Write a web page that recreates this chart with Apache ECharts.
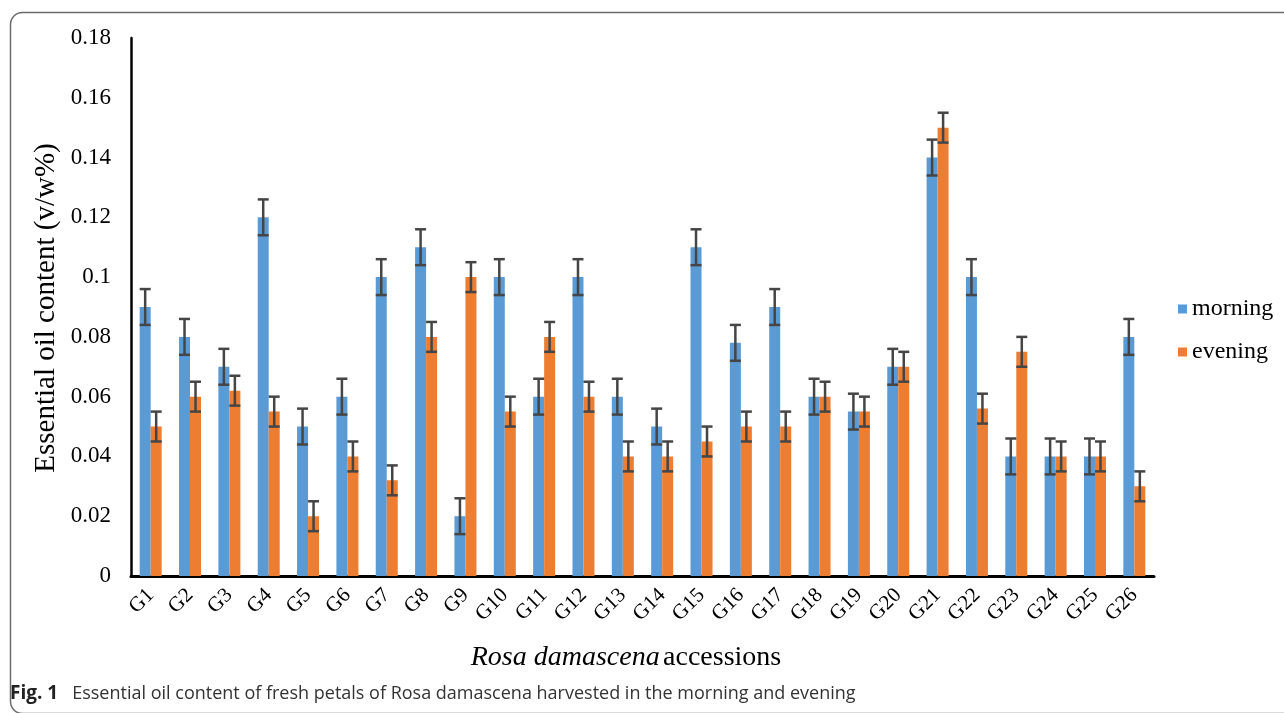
<!DOCTYPE html>
<html>
<head>
<meta charset="utf-8">
<script src="https://cdn.jsdelivr.net/npm/echarts@6/dist/echarts.min.js"></script>
<style>
html,body{margin:0;padding:0;background:#fff;}
#chart{width:1284px;height:713px;}
</style>
</head>
<body>
<div id="chart"></div>
<script>
const categories = ['G1','G2','G3','G4','G5','G6','G7','G8','G9','G10','G11','G12','G13','G14','G15','G16','G17','G18','G19','G20','G21','G22','G23','G24','G25','G26'];
const morning = [0.09,0.08,0.07,0.12,0.05,0.06,0.10,0.11,0.02,0.10,0.06,0.10,0.06,0.05,0.11,0.078,0.09,0.06,0.055,0.07,0.14,0.10,0.04,0.04,0.04,0.08];
const evening = [0.05,0.06,0.062,0.055,0.02,0.04,0.032,0.08,0.10,0.055,0.08,0.06,0.04,0.04,0.045,0.05,0.05,0.06,0.055,0.07,0.15,0.056,0.075,0.04,0.04,0.03];
const morningErr = [0.006,0.006,0.006,0.006,0.006,0.006,0.006,0.006,0.006,0.006,0.006,0.006,0.006,0.006,0.006,0.006,0.006,0.006,0.006,0.006,0.006,0.006,0.006,0.006,0.006,0.006];
const eveningErr = [0.005,0.005,0.005,0.005,0.005,0.005,0.005,0.005,0.005,0.005,0.005,0.005,0.005,0.005,0.005,0.005,0.005,0.005,0.005,0.005,0.005,0.005,0.005,0.005,0.005,0.005];
const yTicks = ['0','0.02','0.04','0.06','0.08','0.1','0.12','0.14','0.16','0.18'];
const seriesNames = ['morning', 'evening'];
const seriesColors = ['#5B9BD5', '#ED7D31'];

const BAR_W = 11;
const serif = 'Liberation Serif';

function errSeries(name, vals, errs, offset) {
  return {
    name: name + '-err',
    type: 'custom',
    z: 5,
    silent: true,
    data: vals.map((v, i) => [i, v - errs[i], v + errs[i]]),
    renderItem: function (params, api) {
      const i = api.value(0);
      const lo = api.coord([i, api.value(1)]);
      const hi = api.coord([i, api.value(2)]);
      const x = lo[0] + offset;
      const hw = BAR_W / 2;
      const style = {stroke: '#454545', lineWidth: 2.5};
      return {
        type: 'group',
        children: [
          {type: 'line', shape: {x1: x, y1: lo[1], x2: x, y2: hi[1]}, style: style},
          {type: 'line', shape: {x1: x - hw, y1: lo[1], x2: x + hw, y2: lo[1]}, style: style},
          {type: 'line', shape: {x1: x - hw, y1: hi[1], x2: x + hw, y2: hi[1]}, style: style}
        ]
      };
    }
  };
}

const chart = echarts.init(document.getElementById('chart'));
chart.setOption({
  animation: false,
  backgroundColor: '#fff',
  textStyle: {fontFamily: serif},
  grid: {left: 131, right: 130, top: 38, bottom: 137, containLabel: false},
  legend: {
    data: seriesNames,
    orient: 'vertical',
    left: 1173,
    top: 292,
    icon: 'rect',
    itemWidth: 9,
    itemHeight: 9,
    itemGap: 19,
    textStyle: {fontFamily: serif, fontSize: 24, color: '#000'}
  },
  xAxis: {
    type: 'category',
    data: categories,
    axisLine: {lineStyle: {color: '#000', width: 3}},
    axisTick: {show: false},
    axisLabel: {rotate: 45, fontFamily: serif, fontSize: 21, color: '#000', margin: 16, interval: 0}
  },
  yAxis: {
    type: 'value',
    min: 0,
    max: 0.18,
    interval: 0.02,
    splitLine: {show: false},
    axisLine: {show: true, lineStyle: {color: '#000', width: 2.5}},
    axisTick: {show: false},
    axisLabel: {
      fontFamily: serif, fontSize: 23, color: '#000', margin: 20,
      formatter: function (v) { return yTicks[Math.round(v / 0.02)]; }
    }
  },
  series: [
    {name: seriesNames[0], type: 'bar', data: morning, barWidth: BAR_W, barGap: '0%', itemStyle: {color: seriesColors[0]}},
    {name: seriesNames[1], type: 'bar', data: evening, barWidth: BAR_W, barGap: '0%', itemStyle: {color: seriesColors[1]}},
    errSeries('morning', morning, morningErr, -BAR_W / 2),
    errSeries('evening', evening, eveningErr, BAR_W / 2)
  ],
  graphic: [
    {
      type: 'rect', left: 8, top: 10, silent: true,
      shape: {width: 1320, height: 701, r: [12, 0, 0, 12]},
      style: {fill: 'none', stroke: '#6b6b6b', lineWidth: 1.5}
    },
    {
      type: 'text', x: 46, y: 308, rotation: Math.PI / 2, silent: true,
      style: {
        text: 'Essential oil content (v/w%)',
        align: 'center', verticalAlign: 'middle',
        fontFamily: serif, fontSize: 29, fill: '#000'
      }
    },
    {
      type: 'text', x: 626, y: 658, silent: true,
      style: {
        text: '{i|Rosa damascena} {n|accessions}',
        align: 'center', verticalAlign: 'middle',
        rich: {
          i: {fontFamily: serif, fontStyle: 'italic', fontSize: 28, fill: '#000'},
          n: {fontFamily: serif, fontSize: 28, fill: '#000'}
        }
      }
    },
    {
      type: 'text', x: 10, y: 694, silent: true,
      style: {
        text: '{b|Fig. 1}{n|Essential oil content of fresh petals of Rosa damascena harvested in the morning and evening}',
        verticalAlign: 'middle',
        rich: {
          b: {fontFamily: 'Open Sans', fontWeight: 'bold', fontSize: 19, fill: '#222', padding: [0, 14, 0, 0]},
          n: {fontFamily: 'Open Sans', fontSize: 18, fill: '#333'}
        }
      }
    }
  ]
});
</script>
</body>
</html>
